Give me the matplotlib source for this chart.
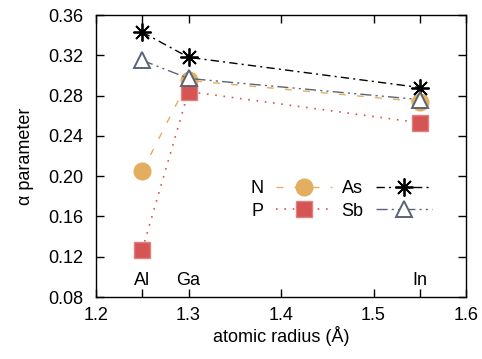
import matplotlib
matplotlib.use("Agg")
import matplotlib.pyplot as plt

plt.rcParams['font.family'] = ['Liberation Sans', 'DejaVu Sans']

# atomic radius of Al, Ga, In
radius = [1.25, 1.30, 1.55]
cations = ['Al', 'Ga', 'In']

alpha_N = [0.205, 0.295, 0.274]
alpha_P = [0.127, 0.284, 0.253]
alpha_As = [0.343, 0.318, 0.288]
alpha_Sb = [0.315, 0.297, 0.276]

fs = 13

fig = plt.figure(figsize=(4.82, 3.59), dpi=100)
ax = fig.add_axes([96 / 482, 62 / 359, 370 / 482, 282 / 359])

ax.plot(radius, alpha_N, color='#e3ae5f', ls=(0, (5, 8)), lw=1.0,
        marker='o', ms=12, mec='#e3ae5f', label='N')
ax.plot(radius, alpha_P, color='#d55555', ls=(0, (1, 4)), lw=1.2,
        marker='s', ms=12, mec='#e08080', label='P')
ax.plot(radius, alpha_As, color='black', ls=(0, (6, 3, 1.5, 3)), lw=1.0,
        marker=(8, 2, 0), ms=13, mew=1.3, label='As')
ax.plot(radius, alpha_Sb, color='#5a6478', ls=(0, (8, 3, 1.5, 3, 1.5, 3)), lw=1.0,
        marker='^', ms=12, mfc='white', mew=1.4, label='Sb')

for x, name in zip(radius, cations):
    ax.text(x, 0.0965, name, ha='center', va='center', fontsize=fs)

ax.set_xlim(1.2, 1.6)
ax.set_ylim(0.08, 0.36)
ax.set_xticks([1.2, 1.3, 1.4, 1.5, 1.6])
ax.set_xticks([1.25, 1.55], minor=True)
ax.set_yticks([0.08, 0.12, 0.16, 0.20, 0.24, 0.28, 0.32, 0.36])
ax.set_yticklabels(['0.08', '0.12', '0.16', '0.20', '0.24', '0.28', '0.32', '0.36'])
ax.tick_params(direction='in', length=6, width=1, labelsize=fs, top=True, right=True)
ax.tick_params(axis='y', pad=9)
ax.tick_params(axis='x', pad=7)
ax.tick_params(which='minor', direction='in', length=6, width=1, top=True)
for s in ax.spines.values():
    s.set_linewidth(1.0)

ax.set_xlabel('atomic radius (Å)', fontsize=fs, labelpad=2)
ax.set_ylabel('α parameter', fontsize=fs, labelpad=10)

ax.legend(ncol=2, loc='center', bbox_to_anchor=(341 / 482, 1 - 200 / 359),
          bbox_transform=fig.transFigure, frameon=False,
          markerfirst=False, fontsize=fs, handlelength=3.1, columnspacing=0.5,
          labelspacing=0.3, handletextpad=0.7, borderpad=0)

fig.savefig('out.png', dpi=100)
